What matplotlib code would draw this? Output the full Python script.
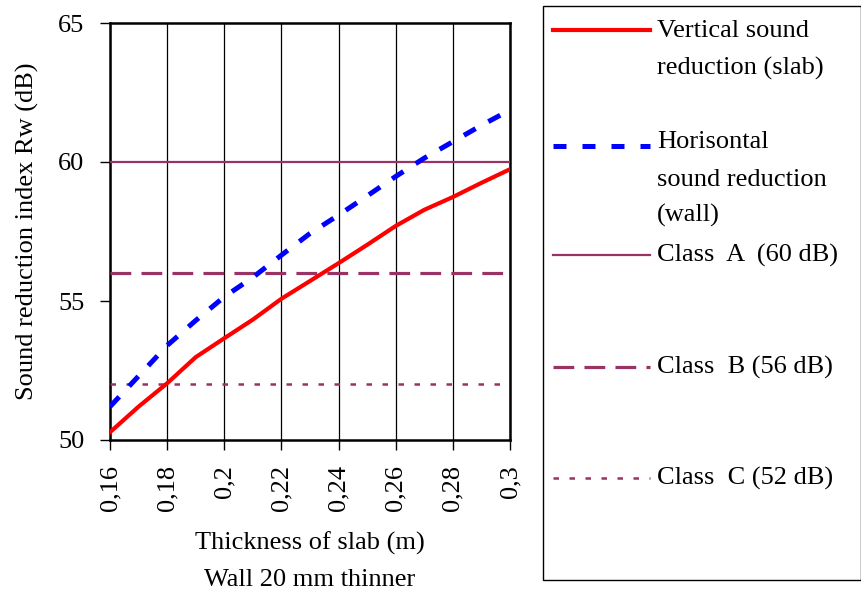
import matplotlib
matplotlib.use("Agg")
import matplotlib.pyplot as plt
from matplotlib.lines import Line2D
from matplotlib.patches import Rectangle
from matplotlib.ticker import FuncFormatter

plt.rcParams['font.family'] = ['Liberation Serif', 'DejaVu Serif']

thickness = [0.16, 0.17, 0.18, 0.19, 0.20, 0.21, 0.22, 0.23, 0.24, 0.25, 0.26, 0.27, 0.28, 0.29, 0.30]
vertical_slab = [50.28, 51.2, 52.04, 52.98, 53.66, 54.33, 55.08, 55.72, 56.36, 57.02, 57.7, 58.28, 58.74, 59.25, 59.74]
horizontal_wall = [51.2, 52.3, 53.4, 54.3, 55.15, 55.85, 56.65, 57.43, 58.09, 58.78, 59.48, 60.14, 60.73, 61.32, 61.87]
class_levels = [60, 56, 52]
class_labels = ["Class  A  (60 dB)", "Class  B (56 dB)", "Class  C (52 dB)"]
x_ticks = [0.16, 0.18, 0.20, 0.22, 0.24, 0.26, 0.28, 0.30]
y_ticks = [50, 55, 60, 65]

W, H = 862, 591
fig = plt.figure(figsize=(W / 100, H / 100), dpi=100)
ax = fig.add_axes([110 / W, 1 - 440 / H, 400 / W, 417 / H])

purple = '#993366'
fs = 19

ax.plot(thickness, vertical_slab, color='#ff0000', lw=3.0, solid_joinstyle='round', zorder=5)
ax.plot(thickness, horizontal_wall, color='#0000ff', lw=3.6, dashes=(2.7, 2.9), zorder=5)
styles = [dict(lw=1.6, ls='-'), dict(lw=2.3, dashes=(6.5, 3.2)), dict(lw=1.8, dashes=(2.2, 4.2))]
for lvl, st in zip(class_levels, styles):
    ax.plot([thickness[0], thickness[-1]], [lvl, lvl], color=purple, zorder=4, **st)

ax.set_xlim(0.16, 0.30)
ax.set_ylim(50, 65)
ax.set_xticks(x_ticks)
ax.set_yticks(y_ticks)
ax.xaxis.set_major_formatter(FuncFormatter(lambda v, p: ('%g' % round(v, 2)).replace('.', ',')))
ax.tick_params(axis='x', labelrotation=90, labelsize=fs, length=7, width=1, pad=11)
ax.tick_params(axis='y', labelsize=fs, length=7.5, width=1, pad=11)
ax.grid(axis='x', color='black', lw=0.9)
ax.grid(axis='y', visible=False)
for s in ax.spines.values():
    s.set_linewidth(1.8)
ax.set_ylabel("Sound reduction index Rw (dB)", fontsize=fs, labelpad=14)

fig.text(310 / W, 1 - 543 / H, "Thickness of slab (m)", fontsize=fs, ha='center', va='center')
fig.text(310 / W, 1 - 580 / H, "Wall 20 mm thinner", fontsize=fs, ha='center', va='center')

# legend box
fig.patches.append(Rectangle((543 / W, 1 - 580 / H), (861 - 543) / W, (580 - 6) / H,
                             transform=fig.transFigure, fill=False, ec='black', lw=1.0))
x0, x1, tx = 553 / W, 650 / W, 657 / W
def yf(py):
    return 1 - py / H
fig.add_artist(Line2D([x0, x1], [yf(30), yf(30)], color='#ff0000', lw=3.0, transform=fig.transFigure))
fig.add_artist(Line2D([x0, x1], [yf(146), yf(146)], color='#0000ff', lw=3.6, dashes=(2.6, 3.2), transform=fig.transFigure))
fig.add_artist(Line2D([x0, x1], [yf(255), yf(255)], color=purple, transform=fig.transFigure, **styles[0]))
fig.add_artist(Line2D([x0, x1], [yf(367), yf(367)], color=purple, transform=fig.transFigure, **styles[1]))
fig.add_artist(Line2D([x0, x1], [yf(478), yf(478)], color=purple, transform=fig.transFigure, **styles[2]))

legend_lines = [("Vertical sound", 31), ("reduction (slab)", 68),
                ("Horisontal", 142), ("sound reduction", 180), ("(wall)", 215),
                (class_labels[0], 255), (class_labels[1], 367), (class_labels[2], 478)]
for txt, py in legend_lines:
    fig.text(tx, yf(py), txt, fontsize=fs, ha='left', va='center')

fig.savefig("out.png", dpi=100)
